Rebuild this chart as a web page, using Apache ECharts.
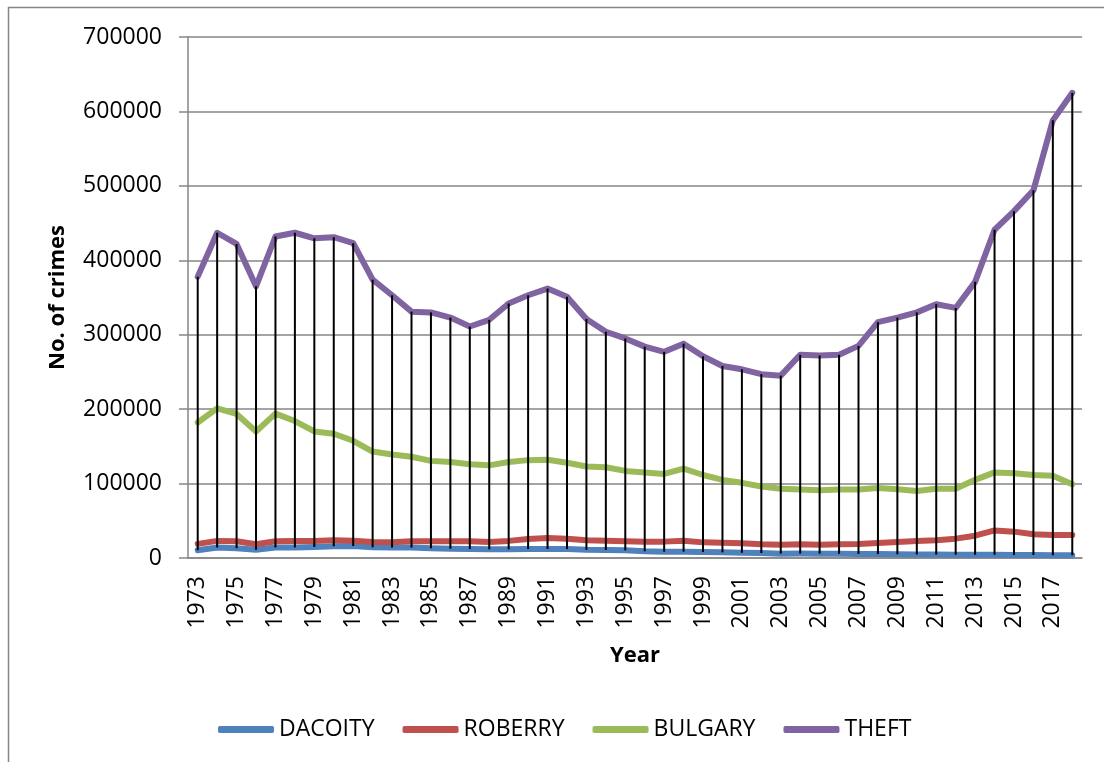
<!DOCTYPE html>
<html>
<head>
<meta charset="utf-8">
<title>Crimes</title>
<script src="https://cdn.jsdelivr.net/npm/echarts@6.0.0/dist/echarts.min.js"></script>
<style>
  html, body { margin: 0; padding: 0; background: #fff; }
  #main { width: 1104px; height: 762px; }
</style>
</head>
<body>
<div id="main"></div>
<script>
// years on the category axis
const years = ['1973','1974','1975','1976','1977','1978','1979','1980','1981','1982',
  '1983','1984','1985','1986','1987','1988','1989','1990','1991','1992',
  '1993','1994','1995','1996','1997','1998','1999','2000','2001','2002',
  '2003','2004','2005','2006','2007','2008','2009','2010','2011','2012',
  '2013','2014','2015','2016','2017','2018'];

const dacoity = [10300, 14000, 13000, 11000, 14000, 14000, 14800, 15700, 16000, 14500,
  14000, 14000, 13000, 12500, 12000, 11600, 11600, 12000, 12000, 12000,
  11000, 10700, 10300, 9000, 8500, 8500, 8000, 7600, 7000, 6700,
  5800, 6000, 5800, 5600, 5500, 5300, 5000, 4800, 4600, 4400,
  4300, 4400, 4100, 3900, 3800, 3600];

const robbery = [19000, 23000, 22500, 18500, 22500, 23000, 23000, 23700, 23300, 21500,
  21000, 22500, 22500, 22500, 22500, 21500, 23000, 25500, 27000, 26000,
  23700, 23300, 22500, 22000, 22000, 23300, 21000, 20600, 19700, 18400,
  17900, 18400, 17900, 18400, 18800, 20100, 21500, 22800, 23700, 26000,
  30000, 37000, 35400, 31800, 31000, 31000];

const burglary = [182000, 201000, 193500, 170000, 194000, 184000, 170000, 167000, 157500, 143000,
  139000, 136000, 130500, 129000, 126000, 124500, 129000, 131500, 132000, 128000,
  123000, 122000, 117000, 115000, 113000, 120000, 111500, 105000, 101000, 96000,
  93000, 92000, 91000, 92000, 92000, 94000, 92500, 90000, 93000, 93000,
  105000, 115000, 114000, 111500, 110500, 99000];

const theft = [378000, 437000, 422000, 365000, 432000, 437000, 429500, 431000, 423000, 374000,
  353000, 331000, 330000, 323000, 311000, 320000, 342000, 353000, 362000, 351000,
  321000, 304000, 295000, 284000, 277000, 288000, 271000, 258000, 253500, 247000,
  245000, 273000, 272000, 273000, 285000, 317000, 323000, 330000, 341000, 336000,
  371000, 441000, 466000, 494000, 588000, 625000];

const names = ['DACOITY', 'ROBERRY', 'BULGARY', 'THEFT'];
const colors = ['#4F81BD', '#C0504D', '#9BBB59', '#8064A2'];

const font = 'Open Sans';
const gray = '#868686';

let chart = echarts.init(document.getElementById('main'));

// high-low lines: from the lowest series up to theft
const dropData = years.map((y, i) => [i, dacoity[i], theft[i]]);

function lineSeries(name, data, color) {
  return {
    name: name,
    type: 'line',
    data: data,
    symbol: 'none',
    lineStyle: { color: color, width: 6, cap: 'round', join: 'round' },
    itemStyle: { color: color },
    z: 2
  };
}

chart.setOption({
  animation: false,
  textStyle: { fontFamily: font },
  graphic: [{
    type: 'rect',
    shape: { x: 8.5, y: 7.5, width: 1200, height: 800 },
    style: { fill: 'none', stroke: gray, lineWidth: 1.5 },
    silent: true
  }],
  grid: { left: 188, right: 22, top: 37, bottom: 204 },
  legend: {
    data: names,
    left: 213,
    top: 713,
    icon: 'roundRect',
    itemWidth: 56,
    itemHeight: 7,
    itemGap: 28,
    textStyle: { fontFamily: font, fontSize: 23, color: '#000' }
  },
  xAxis: {
    type: 'category',
    data: years,
    boundaryGap: true,
    name: 'Year',
    nameLocation: 'middle',
    nameGap: 87,
    nameTextStyle: { fontFamily: font, fontSize: 22, fontWeight: 'bold', color: '#000' },
    axisLine: { lineStyle: { color: gray, width: 1.5 } },
    axisTick: { show: false },
    axisLabel: {
      interval: 1,
      rotate: 90,
      margin: 18,
      fontFamily: font,
      fontSize: 23,
      color: '#000'
    }
  },
  yAxis: {
    type: 'value',
    min: 0,
    max: 700000,
    interval: 100000,
    name: 'No. of crimes',
    nameLocation: 'middle',
    nameGap: 119,
    nameTextStyle: { fontFamily: font, fontSize: 22, fontWeight: 'bold', color: '#000' },
    axisLine: { show: true, lineStyle: { color: gray, width: 1.5 } },
    axisTick: { show: true, length: 9, lineStyle: { color: gray, width: 1.5 } },
    axisLabel: {
      margin: 26,
      fontFamily: font,
      fontSize: 23,
      color: '#000',
      formatter: (v) => String(v)
    },
    splitLine: { lineStyle: { color: gray, width: 1.5 } }
  },
  series: [
    lineSeries(names[0], dacoity, colors[0]),
    lineSeries(names[1], robbery, colors[1]),
    lineSeries(names[2], burglary, colors[2]),
    lineSeries(names[3], theft, colors[3]),
    {
      name: 'drop',
      type: 'custom',
      data: dropData,
      encode: { x: 0, y: [1, 2] },
      z: 5,
      silent: true,
      renderItem: (params, api) => {
        let p1 = api.coord([api.value(0), api.value(1)]);
        let p2 = api.coord([api.value(0), api.value(2)]);
        return {
          type: 'line',
          shape: { x1: p1[0], y1: p1[1], x2: p2[0], y2: p2[1] },
          style: { stroke: '#000', lineWidth: 2 }
        };
      }
    }
  ]
});
</script>
</body>
</html>
